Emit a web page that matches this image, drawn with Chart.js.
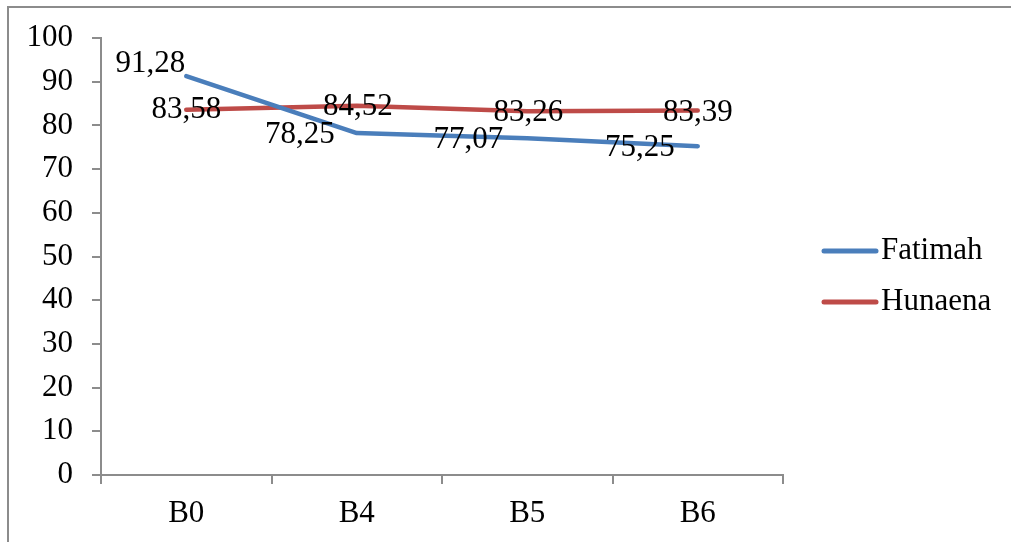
<!DOCTYPE html>
<html>
<head>
<meta charset="utf-8">
<script src="https://cdn.jsdelivr.net/npm/chart.js@4.4.1/dist/chart.umd.min.js"></script>
<style>
  html, body { margin: 0; padding: 0; background: #fff; }
  #wrap { position: relative; width: 1011px; height: 542px; }
  #frame { position: absolute; left: 7px; top: 6px; right: 0; bottom: 0;
           border-top: 2px solid #8c8c8c; border-left: 2px solid #8c8c8c; pointer-events: none; }
  canvas { position: absolute; left: 0; top: 0; }
</style>
</head>
<body>
<div id="wrap">
  <canvas id="c" width="1011" height="542"></canvas>
  <div id="frame"></div>
</div>
<script>
const categories = ['B0', 'B4', 'B5', 'B6'];
const fatimah = [91.28, 78.25, 77.07, 75.25];
const hunaena = [83.58, 84.52, 83.26, 83.39];
const seriesNames = ['Fatimah', 'Hunaena'];
const seriesColors = ['#4a7ebb', '#be4b48'];
// label placement (pixel offsets of each label centre relative to its point)
const labelOffsets = [
  [[-36, -12], [-57, 2], [-59, 2], [-58, 2]],
  [[0, 0], [1, 1], [1, 2], [0, 2]]
];

const FONT = '"Liberation Serif", "Times New Roman", serif';
const FS = 31;

const fmt = v => v.toFixed(2).replace('.', ',');

const labelPlugin = {
  id: 'dataLabels',
  afterDatasetsDraw(chart) {
    const ctx = chart.ctx;
    ctx.save();
    ctx.font = FS + 'px ' + FONT;
    ctx.fillStyle = '#000';
    ctx.textAlign = 'center';
    ctx.textBaseline = 'middle';
    chart.data.datasets.forEach((ds, di) => {
      const meta = chart.getDatasetMeta(di);
      meta.data.forEach((pt, i) => {
        const off = labelOffsets[di][i];
        ctx.fillText(fmt(ds.data[i]), pt.x + off[0], pt.y + off[1]);
      });
    });
    ctx.restore();
  }
};

const legendPlugin = {
  id: 'sideLegend',
  afterDraw(chart) {
    const ctx = chart.ctx;
    ctx.save();
    const ys = [251, 302];
    chart.data.datasets.forEach((ds, di) => {
      ctx.strokeStyle = ds.borderColor;
      ctx.lineWidth = 5;
      ctx.lineCap = 'round';
      ctx.beginPath();
      ctx.moveTo(824, ys[di]);
      ctx.lineTo(876, ys[di]);
      ctx.stroke();
      ctx.font = FS + 'px ' + FONT;
      ctx.fillStyle = '#000';
      ctx.textAlign = 'left';
      ctx.textBaseline = 'middle';
      ctx.fillText(ds.label, 881, ys[di]);
    });
    ctx.restore();
  }
};

new Chart(document.getElementById('c'), {
  type: 'line',
  data: {
    labels: categories,
    datasets: [
      { label: seriesNames[0], data: fatimah, borderColor: seriesColors[0], backgroundColor: seriesColors[0] },
      { label: seriesNames[1], data: hunaena, borderColor: seriesColors[1], backgroundColor: seriesColors[1] }
    ]
  },
  options: {
    responsive: false,
    animation: false,
    devicePixelRatio: 1,
    layout: { padding: { left: 0, top: 38, right: 228, bottom: 0 } },
    elements: {
      line: { borderWidth: 4.5, tension: 0, borderCapStyle: 'round', borderJoinStyle: 'round' },
      point: { radius: 0, hoverRadius: 0 }
    },
    plugins: { legend: { display: false }, tooltip: { enabled: false } },
    scales: {
      x: {
        offset: true,
        grid: { offset: true, drawOnChartArea: false, drawTicks: true, tickLength: 9, color: '#8c8c8c', lineWidth: 2 },
        border: { display: true, color: '#8c8c8c', width: 2 },
        ticks: { font: { family: FONT, size: FS }, color: '#000', padding: 11, maxRotation: 0 },
        afterFit(scale) { scale.height = 67; }
      },
      y: {
        min: 0, max: 100,
        grid: { drawOnChartArea: false, drawTicks: true, tickLength: 9, color: '#8c8c8c', lineWidth: 2 },
        border: { display: true, color: '#8c8c8c', width: 2 },
        ticks: { stepSize: 10, font: { family: FONT, size: FS }, color: '#000', padding: 19 },
        afterFit(scale) { scale.width = 101; }
      }
    }
  },
  plugins: [labelPlugin, legendPlugin]
});
</script>
</body>
</html>
